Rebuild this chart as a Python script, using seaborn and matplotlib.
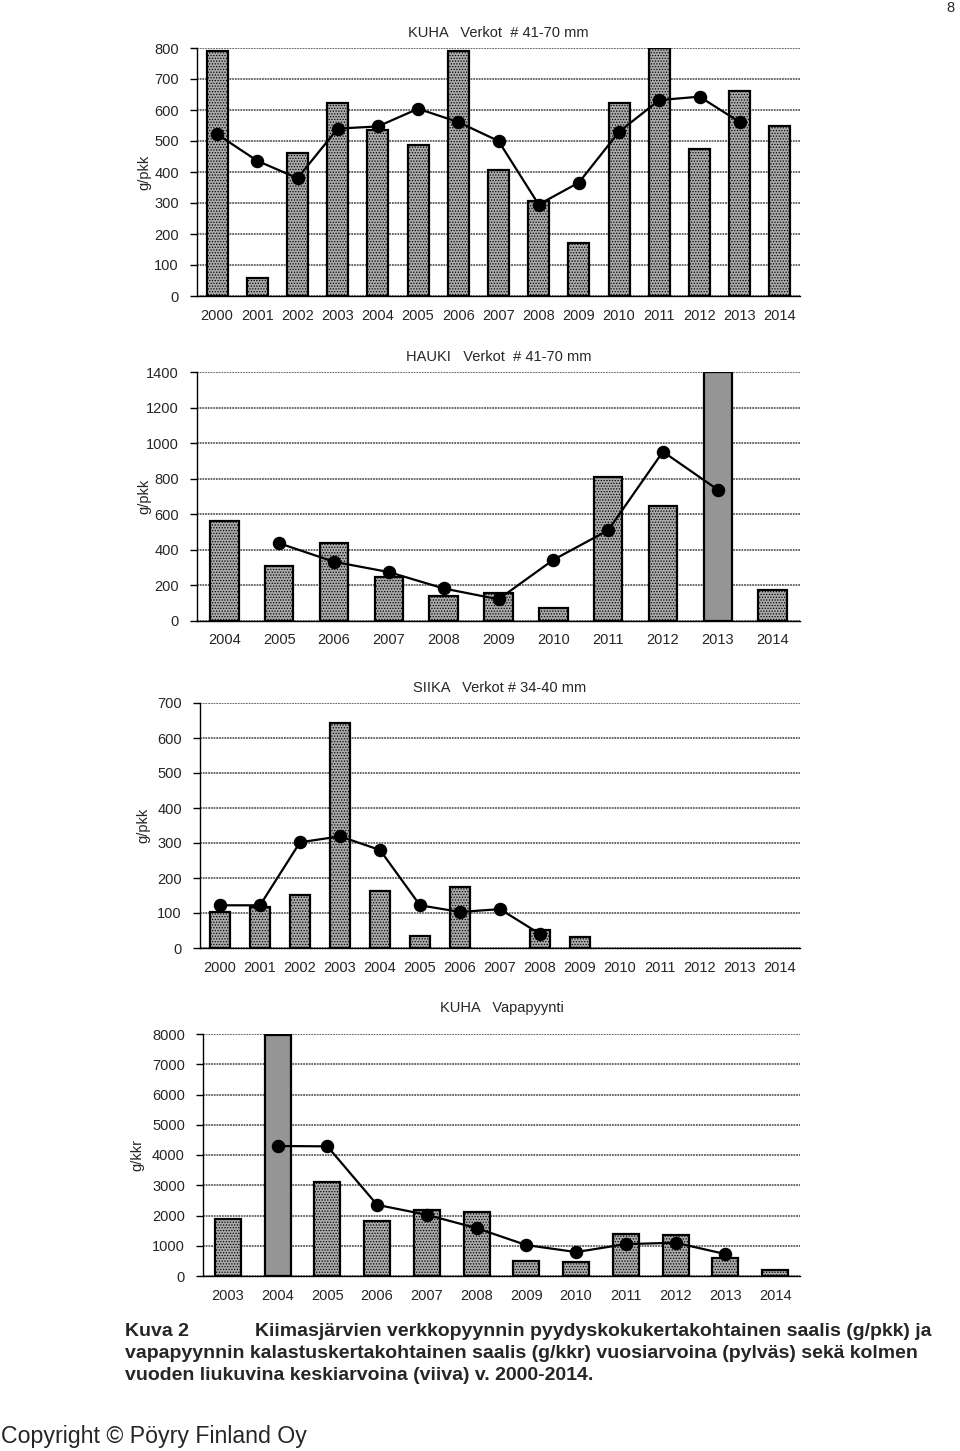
import matplotlib
matplotlib.use('Agg')
import matplotlib.pyplot as plt
import seaborn as sns
import numpy as np
import pandas as pd

nan = np.nan

# KUHA, verkot # 41-70 mm (g/pkk)
kuha_years = [str(y) for y in range(2000, 2015)]
kuha_bars = [790, 58, 460, 622, 537, 487, 790, 408, 305, 170, 622, 800, 475, 660, 548]
kuha_avg = [522, 436, 380, 540, 547, 604, 561, 500, 295, 366, 530, 632, 643, 561, nan]

# HAUKI, verkot # 41-70 mm (g/pkk)
hauki_years = [str(y) for y in range(2004, 2015)]
hauki_bars = [560, 310, 440, 248, 141, 160, 75, 809, 649, 1400, 177]
hauki_avg = [nan, 437, 333, 275, 183, 122, 344, 510, 952, 738, nan]

# SIIKA, verkot # 34-40 mm (g/pkk)
siika_years = [str(y) for y in range(2000, 2015)]
siika_bars = [102, 116, 151, 644, 162, 35, 173, nan, 51, 31, nan, nan, nan, nan, nan]
siika_avg = [122, 122, 302, 319, 280, 122, 103, 111, 40, nan, nan, nan, nan, nan, nan]

# KUHA, vapapyynti (g/kkr)
vapa_years = [str(y) for y in range(2003, 2015)]
vapa_bars = [1879, 7956, 3099, 1824, 2176, 2110, 495, 450, 1396, 1341, 604, 209]
vapa_avg = [nan, 4297, 4286, 2352, 2022, 1582, 1022, 791, 1055, 1099, 725, nan]

caption_lines = [
    'Kiimasjärvien verkkopyynnin pyydyskokukertakohtainen saalis (g/pkk) ja',
    'vapapyynnin kalastuskertakohtainen saalis (g/kkr) vuosiarvoina (pylväs) sekä kolmen',
    'vuoden liukuvina keskiarvoina (viiva) v. 2000-2014.',
]

sns.set_style('white')
plt.rcParams['font.family'] = ['Liberation Sans', 'DejaVu Sans']
plt.rcParams['hatch.linewidth'] = 0.6

W, H = 960, 1451
fig = plt.figure(figsize=(W / 100, H / 100), dpi=100)


def _rect(left, right, top, bottom):
    return [left / W, 1 - bottom / H, (right - left) / W, (bottom - top) / H]


def draw_panel(ax, years, bars, avg, title, ylabel, ymax, ystep, label_x, solid=(), title_pad=8):
    df = pd.DataFrame({'year': years, 'value': bars, 'avg': avg})
    sns.barplot(data=df, x='year', y='value', order=years, ax=ax, width=0.52,
                color='#ababab', edgecolor='black', linewidth=1.6, saturation=1)
    for i, p in enumerate(ax.patches):
        if i in solid:
            p.set_facecolor('#959595')
        else:
            p.set_hatch('......')
    sns.pointplot(data=df, x='year', y='avg', order=years, ax=ax, color='black',
                  errorbar=None, markers='o', markersize=8.5, linewidth=1.6)
    n = len(years)
    ax.set_xlim(-0.5, n - 0.5)
    ax.set_ylim(0, ymax)
    ax.set_yticks(np.arange(0, ymax + 1, ystep))
    ax.yaxis.grid(True, color='#5e5e5e', linewidth=1.3, linestyle=(0, (1, 0.5)))
    ax.set_axisbelow(True)
    for s in ['top', 'right']:
        ax.spines[s].set_visible(False)
    for s in ['left', 'bottom']:
        ax.spines[s].set_color('black')
        ax.spines[s].set_linewidth(1.0)
    ax.set_xticks(np.arange(-0.5, n, 1.0), minor=True)
    ax.tick_params(axis='x', which='major', length=0, pad=9, labelsize=10.5)
    ax.tick_params(axis='x', which='minor', length=5, width=1, color='black', direction='out')
    ax.tick_params(axis='y', length=5, width=1, color='black', direction='out',
                   left=True, pad=8, labelsize=10.5)
    ax.set_xlabel('')
    ax.set_ylabel(ylabel, fontsize=10.5)
    ax.yaxis.set_label_coords(label_x, 0.5)
    ax.set_title(title, fontsize=10.5, pad=title_pad)


ax1 = fig.add_axes(_rect(197, 800, 48, 296))
draw_panel(ax1, kuha_years, kuha_bars, kuha_avg, 'KUHA   Verkot  # 41-70 mm', 'g/pkk',
           800, 100, -0.075)

ax2 = fig.add_axes(_rect(197, 800, 372, 621))
draw_panel(ax2, hauki_years, hauki_bars, hauki_avg, 'HAUKI   Verkot  # 41-70 mm', 'g/pkk',
           1400, 200, -0.075, solid=(9,))

ax3 = fig.add_axes(_rect(200, 800, 703, 948))
draw_panel(ax3, siika_years, siika_bars, siika_avg, 'SIIKA   Verkot # 34-40 mm', 'g/pkk',
           700, 100, -0.082)

ax4 = fig.add_axes(_rect(203, 800, 1034, 1276))
draw_panel(ax4, vapa_years, vapa_bars, vapa_avg, 'KUHA   Vapapyynti', 'g/kkr',
           8000, 1000, -0.098, solid=(1,), title_pad=16)

# caption
cap = dict(fontsize=14, fontweight='bold', va='baseline')
fig.text(125 / W, 1 - 1336 / H, 'Kuva 2', **cap)
fig.text(255 / W, 1 - 1336 / H, caption_lines[0], **cap)
fig.text(125 / W, 1 - 1358 / H, caption_lines[1], **cap)
fig.text(125 / W, 1 - 1380 / H, caption_lines[2], **cap)

fig.text(1 / W, 1 - 1436 / H, 'Copyright © Pöyry Finland Oy', fontsize=16.7, va='center')
fig.text(950 / W, 1 - 8 / H, '8', fontsize=10.5, va='center', ha='center')

fig.savefig('out.png', dpi=100)
